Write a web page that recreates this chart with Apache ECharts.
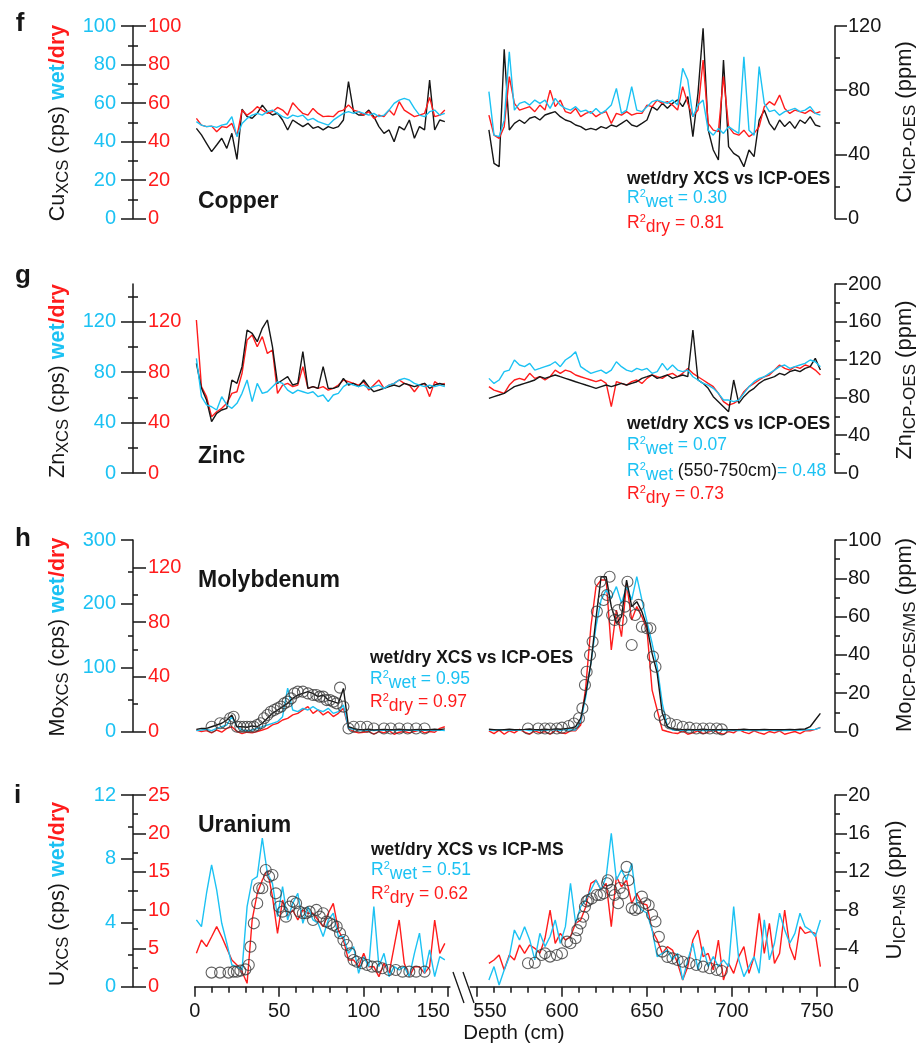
<!DOCTYPE html>
<html>
<head>
<meta charset="utf-8">
<title>XCS vs ICP depth profiles</title>
<script src="https://cdn.jsdelivr.net/npm/echarts@6/dist/echarts.min.js"></script>
<style>
  html, body { margin: 0; padding: 0; background: #ffffff; }
  #chart { width: 922px; height: 1053px; }
</style>
</head>
<body>
<div id="chart"></div>
<script>
// ---------------------------------------------------------------------------
// Depth columns (cm) for the two core sections
// ---------------------------------------------------------------------------
const depthLeft = [1,4,7,10,13,16,19,22,25,28,31,34,37,40,43,46,49,52,55,58,61,64,67,70,73,76,79,82,85,88,91,94,97,100,103,106,109,112,115,118,121,124,127,130,133,136,139,142,145,148];
const depthRight = [557,560,563,566,569,572,575,578,581,584,587,590,593,596,599,602,605,608,611,614,617,620,623,626,629,632,635,638,641,644,647,650,653,656,659,662,665,668,671,674,677,680,683,686,689,692,695,698,701,704,707,710,713,716,719,722,725,728,731,734,737,740,743,746,749,752];

// Depth axis ticks
const depthMajorLeft = [0,50,100,150];
const depthMinorLeft = [10,20,30,40,60,70,80,90,110,120,130,140];
const depthMajorRight = [550,600,650,700,750];
const depthMinorRight = [560,570,580,590,610,620,630,640,660,670,680,690,710,720,730,740];

// ---------------------------------------------------------------------------
// Copper: XCS wet / dry (cps), ICP-OES (ppm)
// ---------------------------------------------------------------------------
const cuWetLeft = [50.3,48.5,47.7,48.0,47.3,48.5,49.1,52.9,42.5,49.4,52.0,53.7,54.6,53.7,55.5,56.3,54.6,52.9,52.0,53.7,52.9,53.7,51.1,52.0,50.3,49.4,48.5,51.1,52.9,54.6,55.5,54.6,55.5,54.6,53.7,54.6,52.9,53.7,56.3,59.8,61.5,62.4,61.5,57.2,53.7,52.9,55.5,56.3,53.7,54.6];
const cuDryLeft = [52.0,48.5,47.7,48.0,45.1,47.7,47.3,49.4,42.8,56.3,53.7,55.5,58.1,56.3,54.6,55.5,57.7,56.3,53.7,60.1,57.2,54.6,53.7,57.2,54.6,52.9,53.2,52.9,55.5,56.3,58.9,56.3,55.5,53.7,55.5,52.0,53.7,52.9,56.3,53.7,60.7,56.3,54.6,52.9,53.7,54.6,62.9,52.9,53.7,56.3];
const cuIcpLeft = [56.2,52.1,46.9,41.7,45.8,50.0,43.7,53.1,36.9,68.1,63.5,62.5,65.6,70.7,66.6,64.5,65.6,61.4,55.2,61.4,59.3,57.3,59.3,56.2,57.3,55.2,57.3,56.2,57.3,61.4,85.3,66.6,64.5,64.5,67.6,63.5,57.3,53.1,55.2,47.9,57.3,55.2,61.4,50.0,57.3,55.2,86.3,55.2,61.4,60.4];
const cuWetRight = [65.9,43.3,42.5,51.1,86.6,56.3,59.8,60.7,58.9,61.5,59.8,61.5,57.2,62.4,58.9,57.2,56.3,58.1,55.5,56.3,54.6,57.2,54.6,56.3,58.9,67.6,54.6,56.3,68.5,56.3,55.5,58.1,60.7,61.5,60.7,59.8,61.5,58.9,78.0,71.9,52.9,58.9,61.5,45.9,43.3,46.8,44.2,47.7,45.9,44.2,84.0,45.9,43.3,78.9,59.8,55.5,56.3,53.7,55.5,56.3,57.2,55.5,56.3,58.1,54.6,53.7];
const cuDryRight = [53.7,43.3,41.6,47.7,73.7,59.8,56.3,57.2,58.1,55.5,58.9,56.3,66.7,58.1,61.5,55.5,54.6,57.2,52.9,54.6,55.5,52.9,54.6,55.5,49.4,54.6,53.7,55.5,53.7,54.6,54.6,58.9,58.1,61.5,59.8,60.7,58.9,56.3,68.5,59.8,52.9,56.3,82.3,49.4,45.9,45.1,73.7,47.7,44.2,43.3,45.9,42.5,44.2,47.7,58.1,60.7,58.9,64.1,57.2,54.6,56.3,55.5,54.6,56.3,54.6,55.5];
const cuIcpRight = [55.2,34.4,32.3,105.5,55.2,59.3,61.4,59.3,62.5,63.5,61.4,64.5,65.6,66.6,63.5,61.4,60.4,58.3,57.3,55.2,56.2,55.2,57.3,56.2,58.3,57.3,59.3,61.4,58.3,57.3,59.3,61.4,69.7,67.6,71.8,68.7,71.8,73.9,69.7,76.0,51.0,78.0,118.6,55.2,42.7,36.5,98.8,44.8,40.6,38.6,32.3,42.7,38.6,61.4,67.6,59.3,55.2,61.4,57.3,60.4,56.2,61.4,59.3,63.5,58.3,57.3];
const cuXcsMajor = [0,20,40,60,80,100];
const cuXcsMinor = [10,30,50,70,90];
const cuIcpMajor = [0,40,80,120];
const cuIcpMinor = [20,60,100];

// ---------------------------------------------------------------------------
// Zinc
// ---------------------------------------------------------------------------
const znWetLeft = [91.0,60.6,54.0,52.6,50.0,60.6,54.0,51.3,55.3,63.2,73.8,56.6,71.1,63.2,64.5,68.5,72.5,71.1,65.8,63.2,65.8,64.5,63.2,64.5,60.6,61.9,56.6,61.9,63.2,68.5,71.1,69.8,68.5,69.8,67.2,68.5,69.8,67.2,69.8,71.1,73.8,75.1,73.8,71.1,69.8,68.5,69.8,68.5,69.8,68.5];
const znDryLeft = [121.4,68.5,60.6,44.7,48.6,51.3,55.3,63.2,64.5,79.1,105.5,109.5,100.2,108.2,94.9,97.6,63.2,69.8,71.1,68.5,69.8,84.4,67.2,68.5,67.2,68.5,65.8,67.2,69.8,73.8,72.5,71.1,69.8,72.5,65.8,69.8,73.8,67.2,69.8,71.1,73.8,71.1,69.8,64.5,69.8,71.1,60.6,72.5,69.8,71.1];
const znIcpLeft = [116.0,89.6,77.2,54.3,63.1,66.7,68.4,98.4,94.9,112.5,151.3,147.8,139.0,153.1,161.9,133.7,94.9,98.4,101.9,93.1,94.9,128.4,89.6,91.4,89.6,112.5,89.6,89.6,91.4,100.2,93.1,94.9,91.4,98.4,91.4,86.1,87.8,89.6,91.4,93.1,91.4,94.9,93.1,91.4,93.1,94.9,89.6,93.1,94.9,93.1];
const znWetRight = [75.1,71.1,73.8,80.4,81.7,89.7,85.7,84.4,87.0,81.7,83.0,84.4,85.7,88.3,84.4,89.7,92.3,96.3,84.4,81.7,79.1,80.4,81.7,79.1,81.7,88.3,84.4,81.7,80.4,83.0,81.7,83.0,79.1,80.4,87.0,81.7,85.7,81.7,80.4,81.7,76.4,73.8,71.1,69.8,67.2,63.2,57.9,57.9,56.6,57.9,63.2,68.5,72.5,75.1,76.4,79.1,81.7,84.4,85.7,83.0,84.4,85.7,87.0,89.7,88.3,84.4];
const znDryRight = [68.5,65.8,64.5,63.2,69.8,73.8,75.1,73.8,79.1,75.1,76.4,73.8,76.4,81.7,79.1,81.7,80.4,77.8,76.4,75.1,73.8,72.5,73.8,71.1,52.6,72.5,71.1,69.8,72.5,73.8,71.1,75.1,77.8,76.4,75.1,77.8,79.1,76.4,79.1,83.0,79.1,76.4,73.8,71.1,68.5,63.2,56.6,53.9,55.3,57.9,64.5,68.5,71.1,73.8,76.4,77.8,81.7,85.7,83.0,81.7,84.4,83.0,85.7,84.4,81.7,77.8];
const znIcpRight = [79.0,80.8,82.5,84.3,87.8,91.4,93.1,94.9,96.6,98.4,101.9,100.2,101.9,103.7,101.9,100.2,98.4,96.6,94.9,93.1,91.4,89.6,91.4,93.1,91.4,93.1,94.9,93.1,94.9,96.6,100.2,101.9,103.7,100.2,101.9,103.7,100.2,101.9,103.7,101.9,151.3,98.4,94.9,89.6,80.8,75.5,70.2,64.9,98.4,73.7,80.8,86.1,89.6,94.9,98.4,100.2,101.9,105.5,103.7,107.2,109.0,107.2,110.8,112.5,121.3,109.0];
const znXcsMajor = [0,40,80,120];
const znXcsMinor = [20,60,100,140];
const znIcpMajor = [0,40,80,120,160,200];
const znIcpMinor = [20,60,100,140,180];

// ---------------------------------------------------------------------------
// Molybdenum
// ---------------------------------------------------------------------------
const moWetLeft = [1.3,2.3,3.4,1.3,5.0,7.6,10.2,23.2,7.6,2.3,1.3,2.3,5.0,7.6,10.2,12.8,15.4,23.2,68.0,33.7,31.1,36.3,33.7,38.9,33.7,31.1,36.3,28.4,31.1,41.5,5.0,3.4,2.3,1.8,2.3,1.3,2.3,1.8,1.3,2.3,1.8,1.3,2.3,1.8,1.3,2.3,1.8,1.3,2.3,1.3];
const moDryLeft = [1.1,0,0.6,-1,1.1,-0.5,2.3,3.5,0,-1.5,-0.5,-1,0,1.1,2.3,4.8,6.0,8.4,9.6,12.1,13.3,15.8,18.2,13.3,15.8,12.1,14.5,10.9,13.3,17.0,2.3,0,-1,-0.5,0,-2,0,-1,0.6,-2,-0.5,0,-1,0,1.1,-1,0,-0.5,2.3,3.5];
const moIcpLineLeft = [1.1,1.6,1.6,2.5,3.4,4.3,6.0,8.6,2.5,2.5,2.2,2.9,2.5,4.3,6.9,9.5,11.2,13.0,14.7,17.3,19.05,19.9,20.8,19.9,18.2,19.05,16.4,15.6,14.7,22.5,2.5,1.6,1.0,1.0,1.2,0.8,1.0,1.1,0.9,1.0,1.2,1.0,0.8,1.0,1.1,0.9,1.0,1.2,1.0,1.4];
const moWetRight = [2.4,1.3,2.9,1.8,1.3,2.4,1.8,2.9,1.3,2.4,1.8,1.3,2.9,2.4,1.8,2.9,2.4,2.4,15.4,54.6,106.9,164.4,206.2,221.8,208.8,227.0,200.9,227.0,206.2,242.7,206.2,172.2,138.2,101.6,44.2,7.6,2.4,1.8,2.4,1.3,1.8,2.4,1.3,1.8,1.3,2.4,1.8,1.3,1.8,1.3,2.4,1.3,1.8,1.3,1.8,2.4,1.3,1.8,1.3,1.8,2.4,1.8,2.4,2.9,3.4,6.0];
const moDryRight = [0.5,-1.5,1.0,-2.0,0.5,-1.0,1.5,-0.5,-2.0,0.5,-1.0,0.0,-2.0,1.0,-1.0,-1.5,0.5,0.5,4.7,32.8,76.6,105.9,110.8,110.8,59.6,88.8,69.3,108.3,81.5,91.3,84.0,74.2,30.3,15.7,1.1,0.0,-1.0,-1.5,0.5,-2.0,-1.0,0.5,-1.5,-0.5,1.0,-1.0,-2.0,0.0,-1.0,1.5,-0.5,-1.5,0.5,-1.0,-2.0,0.0,-1.0,0.5,-2.0,-1.0,0.0,-1.5,0.5,0.5,1.5,3.0];
const moIcpLineRight = [1.2,1.0,0.8,1.0,1.2,0.9,1.0,1.1,1.3,1.0,0.9,1.2,1.0,1.4,1.2,1.5,1.8,2.5,6.9,19.9,35.6,59.1,80.8,80.8,65.2,56.5,60.0,79.1,65.2,67.8,62.6,54.7,40.8,30.4,9.5,2.5,1.4,1.2,1.0,1.1,0.9,1.0,1.2,1.0,0.9,1.0,1.1,1.0,0.9,1.0,1.2,1.0,0.9,1.0,1.1,1.0,1.0,0.9,1.0,1.1,1.0,1.2,1.3,2.5,6.0,9.5];
const moIcpDepthLeft = [10,15,18,21,23,25,27,29,31,33,35,37,39,41,43,45,47,49,51,53,55,57,59,61,64,67,70,72,74,76,78,80,82,84,86,88,91,94,98,102,106,112,116,121,126,131,136];
const moIcpLeft = [2.5,4.3,4.3,6.9,7.7,2.5,2.5,2.5,2.5,2.5,2.5,3.4,4.3,6.9,8.6,10.3,11.2,12.1,13.0,14.7,15.6,17.3,19.9,20.8,20.8,19.9,19.05,19.05,18.2,18.2,16.4,16.4,15.6,14.7,22.9,13.0,1.6,2.5,2.5,2.5,1.6,1.6,1.6,1.6,1.6,1.6,1.6];
const moIcpDepthRight = [580,586,590,593,597,600,604,607,610,612,613.5,614.5,616.5,618,620.5,622.5,624.5,626.5,628,629.5,631,633,635,637,638.5,641,643,645,647,650,652,653.5,655,657.5,660.5,663.5,667.5,671,675,679,683,687,691,694];
const moIcpRight = [1.6,1.6,1.6,1.6,1.6,2.0,2.9,4.2,6.9,12.1,24.3,31.2,39.9,46.9,62.6,78.2,68.7,71.3,80.8,60.8,58.2,63.4,58.2,65.2,78.2,45.2,60.8,66.1,54.7,53.9,53.9,39.1,33.8,8.6,6.0,4.2,3.4,2.5,2.0,1.6,1.6,1.6,1.6,1.1];
const moWetMajor = [0,100,200,300];
const moWetMinor = [50,150,250];
const moDryMajor = [0,40,80,120];
const moDryMinor = [20,60,100];
const moIcpMajor = [0,20,40,60,80,100];
const moIcpMinor = [10,30,50,70,90];

// ---------------------------------------------------------------------------
// Uranium
// ---------------------------------------------------------------------------
const uWetLeft = [4.18,3.76,5.85,7.62,6.06,3.97,2.72,1.36,1.26,1.05,5.01,6.68,6.89,9.3,7.10,6.47,4.39,6.26,4.18,5.22,5.85,3.97,5.01,4.18,3.97,3.14,4.18,4.60,3.14,3.14,2.09,2.51,0.84,1.88,1.26,5.01,1.26,2.09,0.63,1.26,1.05,1.26,0.63,2.09,3.35,0.84,2.30,0.63,1.88,1.68];
const uDryLeft = [4.35,6.09,5.22,6.52,7.83,6.52,5.0,3.48,2.83,1.96,0.44,8.70,12.17,13.91,15.22,11.74,6.96,11.30,9.13,10.0,8.70,10.0,9.57,9.57,8.70,7.83,9.57,10.87,7.39,6.09,3.48,3.48,2.61,4.35,2.61,2.61,1.31,3.05,1.74,5.22,8.70,3.05,1.31,2.61,2.61,1.74,2.61,8.70,4.35,5.65];
const uWetRight = [0.42,1.26,0.11,1.05,1.88,3.55,2.93,3.76,2.93,1.68,3.34,2.51,3.14,4.18,2.72,3.76,6.47,3.97,5.01,5.43,6.06,6.68,6.06,6.89,9.60,6.68,7.31,6.68,7.72,5.22,4.80,4.60,3.55,1.88,2.09,2.30,1.68,2.09,0.42,1.68,2.72,1.05,2.51,1.26,1.88,1.26,1.68,1.26,5.01,1.68,0.63,1.26,1.88,0.84,4.18,1.68,2.72,4.60,3.55,2.72,3.34,4.60,3.76,3.55,3.14,4.18];
const uDryRight = [3.05,3.48,4.13,2.18,4.13,3.48,5.44,4.35,5.44,5.0,4.35,6.31,10.0,5.65,6.96,6.09,6.52,8.26,8.70,10.44,13.48,13.91,12.61,13.48,7.83,14.35,13.04,13.91,10.87,12.17,10.87,10.65,7.39,6.09,4.35,5.22,4.78,3.05,0.87,2.61,6.09,7.39,3.92,4.35,2.18,6.09,0.87,3.05,1.74,3.92,5.22,1.74,3.92,9.57,4.35,8.26,3.05,4.35,10.0,5.22,3.48,7.83,6.96,7.18,6.96,2.61];
const uIcpDepthLeft = [10,15,20,23,25,27,30,32,33,35,37,38,40,42,44,46,48,50,52,54,56,58,60,62,64,66,68,70,72,74,76,78,80,82,84,86,88,90,92,94,96,99,102,105,108,111,115,119,123,127,131,136];
const uIcpLeft = [1.47,1.47,1.47,1.57,1.57,1.68,1.81,2.27,4.18,6.61,8.70,10.27,10.27,12.18,11.48,11.66,9.74,8.35,7.83,7.31,8.35,8.88,8.70,7.83,7.66,7.66,7.83,6.96,8.01,7.31,7.66,6.79,6.61,6.44,6.27,5.57,4.88,4.35,3.48,2.79,2.61,2.44,2.27,2.09,2.09,1.92,1.74,1.74,1.57,1.57,1.57,1.57];
const uIcpDepthRight = [580,584,588,590,593,597,600,603,605,608,609,611,612.5,613.5,614.5,615.5,617.5,620.5,622.5,624.5,626.5,627,629,631,633,634,636,638,639,641,643,645,647,649,651,653,655,657,659,662,665,668,671,675,679,683,687,691,694];
const uIcpRight = [2.44,2.5,3.31,3.48,3.14,3.31,3.48,4.7,4.53,5.05,5.9,6.6,7.3,8.35,8.9,9.05,9.2,9.57,9.57,9.74,10.8,11.1,10.1,9.57,8.7,10.3,9.74,12.5,11.1,8.2,8.0,8.2,9.4,8.7,8.5,7.5,6.8,5.2,3.66,3.1,2.96,2.79,2.61,2.44,2.27,2.09,1.92,1.74,1.64];
const uWetMajor = [0,4,8,12];
const uWetMinor = [2,6,10];
const uDryMajor = [0,5,10,15,20,25];
const uDryMinor = [2.5,7.5,12.5,17.5,22.5];
const uIcpMajor = [0,4,8,12,16,20];
const uIcpMinor = [2,6,10,14,18];

// ---------------------------------------------------------------------------
// Styling
// ---------------------------------------------------------------------------
const FONT = '"Liberation Sans", Arial, Helvetica, sans-serif';
const CYAN = '#1cc2f3';
const RED = '#ff1c1c';
const INK = '#161616';
const LINE_W = 1.4;

// Layout of the two depth windows and the free-standing left scale
const X_LEFT = [0, 151];
const X_RIGHT = [546, 760.6];
const GRID_LEFT = { left: 194.7, width: 255.2 };
const GRID_RIGHT = { left: 470.2, width: 364.8 };
const LEFT_SCALE_OFFSET = 61.7;

const option = {
  animation: false,
  backgroundColor: '#ffffff',
  grid: [], xAxis: [], yAxis: [], series: [],
  graphic: { elements: [] }
};

function pairs(xs, ys, name) {
  if (xs.length !== ys.length) {
    throw new Error('Length mismatch in ' + name + ': ' + xs.length + ' vs ' + ys.length);
  }
  return xs.map((x, i) => [x, ys[i]]);
}

function addAxis(list, base, o) {
  const ax = Object.assign({
    type: 'value',
    show: o.show !== false,
    splitLine: { show: false },
    axisLine: { show: !!o.line, onZero: false, lineStyle: { color: INK, width: 1.5 } },
    axisTick: o.ticks ? {
      show: true, customValues: o.ticks, length: o.len, inside: !!o.inside,
      lineStyle: { color: INK, width: 1.5 }
    } : { show: false },
    axisLabel: o.labels ? {
      show: true, customValues: o.labels, inside: !!o.inside, color: o.color,
      fontSize: 20, fontFamily: FONT, margin: o.margin
    } : { show: false },
    silent: true
  }, base);
  list.push(ax);
  return list.length - 1;
}

function addLine(xi, yi, xs, ys, color, z, name, width) {
  option.series.push({
    type: 'line', name, xAxisIndex: xi, yAxisIndex: yi,
    data: pairs(xs, ys, name),
    showSymbol: false, symbol: 'none', clip: false, silent: true,
    lineStyle: { color, width: width || LINE_W },
    z
  });
}

function addCircles(xi, yi, xs, ys, z, name) {
  option.series.push({
    type: 'scatter', name, xAxisIndex: xi, yAxisIndex: yi,
    data: pairs(xs, ys, name),
    symbol: 'circle', symbolSize: 11, clip: false, silent: true,
    itemStyle: { color: 'rgba(255,255,255,0)', borderColor: '#3a3a3a', borderWidth: 1.1 },
    z
  });
}

// Depth labels next to the axis break are nudged away from it
function breakLabels(axis, value, pad) {
  axis.axisLabel.formatter = v => (v === value ? '{e|' + v + '}' : String(v));
  axis.axisLabel.rich = { e: { fontSize: 20, fontFamily: FONT, color: INK, padding: pad } };
}

function addPanel(p) {
  const gL = option.grid.length;
  option.grid.push(Object.assign({ top: p.top, height: p.height, outerBoundsMode: 'none' }, GRID_LEFT));
  const gR = option.grid.length;
  option.grid.push(Object.assign({ top: p.top, height: p.height, outerBoundsMode: 'none' }, GRID_RIGHT));

  // depth axes (drawn only under the lowest panel)
  let xL, xR;
  if (p.bottom) {
    xL = addAxis(option.xAxis, { gridIndex: gL, min: X_LEFT[0], max: X_LEFT[1], position: 'bottom' },
      { line: true, ticks: depthMajorLeft, labels: depthMajorLeft, len: 10, color: INK, margin: 15 });
    addAxis(option.xAxis, { gridIndex: gL, min: X_LEFT[0], max: X_LEFT[1], position: 'bottom' },
      { ticks: depthMinorLeft, len: 6 });
    xR = addAxis(option.xAxis, { gridIndex: gR, min: X_RIGHT[0], max: X_RIGHT[1], position: 'bottom' },
      { line: true, ticks: depthMajorRight, labels: depthMajorRight, len: 10, color: INK, margin: 15 });
    addAxis(option.xAxis, { gridIndex: gR, min: X_RIGHT[0], max: X_RIGHT[1], position: 'bottom' },
      { ticks: depthMinorRight, len: 6 });
    breakLabels(option.xAxis[xL], 150, [0, 30, 0, 0]);
    breakLabels(option.xAxis[xR], 550, [0, 0, 0, 26]);
  } else {
    xL = addAxis(option.xAxis, { gridIndex: gL, min: X_LEFT[0], max: X_LEFT[1] }, { show: false });
    xR = addAxis(option.xAxis, { gridIndex: gR, min: X_RIGHT[0], max: X_RIGHT[1] }, { show: false });
  }

  // shared left scale: wet (cyan, ticks outward) and dry (red, ticks inward)
  const yWetL = addAxis(option.yAxis, { gridIndex: gL, min: 0, max: p.wet.max, position: 'left', offset: LEFT_SCALE_OFFSET },
    { line: true, ticks: p.wet.major, labels: p.wet.major, len: 12, color: CYAN, margin: 17 });
  addAxis(option.yAxis, { gridIndex: gL, min: 0, max: p.wet.max, position: 'left', offset: LEFT_SCALE_OFFSET },
    { ticks: p.wet.minor, len: 5 });
  const yDryL = addAxis(option.yAxis, { gridIndex: gL, min: 0, max: p.dry.max, position: 'left', offset: LEFT_SCALE_OFFSET },
    { inside: true, ticks: p.dry.major, labels: p.dry.major, len: 13, color: RED, margin: 15 });
  addAxis(option.yAxis, { gridIndex: gL, min: 0, max: p.dry.max, position: 'left', offset: LEFT_SCALE_OFFSET },
    { inside: true, ticks: p.dry.minor, len: 5 });
  const yIcpL = addAxis(option.yAxis, { gridIndex: gL, min: 0, max: p.icp.max, position: 'right' }, { show: false });

  // right window: ICP scale on the right edge
  const yWetR = addAxis(option.yAxis, { gridIndex: gR, min: 0, max: p.wet.max, position: 'left' }, { show: false });
  const yDryR = addAxis(option.yAxis, { gridIndex: gR, min: 0, max: p.dry.max, position: 'left' }, { show: false });
  const yIcpR = addAxis(option.yAxis, { gridIndex: gR, min: 0, max: p.icp.max, position: 'right' },
    { line: true, ticks: p.icp.major, labels: p.icp.major, len: 12, color: INK, margin: 13 });
  addAxis(option.yAxis, { gridIndex: gR, min: 0, max: p.icp.max, position: 'right' },
    { ticks: p.icp.minor, len: 5 });

  const idx = {
    L: { x: xL, wet: yWetL, dry: yDryL, icp: yIcpL, depth: depthLeft },
    R: { x: xR, wet: yWetR, dry: yDryR, icp: yIcpR, depth: depthRight }
  };
  p.layers.forEach((layer, k) => {
    ['L', 'R'].forEach(side => {
      const a = idx[side];
      const vals = layer[side];
      if (!vals) return;
      if (layer.kind === 'points') {
        addCircles(a.x, a.icp, layer[side + 'depth'], vals, 10 + k, p.name + '-' + layer.key + side);
      } else {
        const color = layer.key === 'wet' ? CYAN : layer.key === 'dry' ? RED : INK;
        addLine(a.x, a[layer.key], a.depth, vals, color, 10 + k, p.name + '-' + layer.key + side);
      }
    });
  });
}

// ---------------------------------------------------------------------------
// Panels
// ---------------------------------------------------------------------------
addPanel({
  name: 'Cu', top: 26, height: 192.5,
  wet: { max: 100, major: cuXcsMajor, minor: cuXcsMinor },
  dry: { max: 100, major: cuXcsMajor, minor: cuXcsMinor },
  icp: { max: 120, major: cuIcpMajor, minor: cuIcpMinor },
  layers: [
    { key: 'icp', L: cuIcpLeft, R: cuIcpRight },
    { key: 'dry', L: cuDryLeft, R: cuDryRight },
    { key: 'wet', L: cuWetLeft, R: cuWetRight }
  ]
});
addPanel({
  name: 'Zn', top: 284, height: 189,
  wet: { max: 150, major: znXcsMajor, minor: znXcsMinor },
  dry: { max: 150, major: znXcsMajor, minor: znXcsMinor },
  icp: { max: 200, major: znIcpMajor, minor: znIcpMinor },
  layers: [
    { key: 'dry', L: znDryLeft, R: znDryRight },
    { key: 'icp', L: znIcpLeft, R: znIcpRight },
    { key: 'wet', L: znWetLeft, R: znWetRight }
  ]
});
addPanel({
  name: 'Mo', top: 540, height: 191.5,
  wet: { max: 300, major: moWetMajor, minor: moWetMinor },
  dry: { max: 140, major: moDryMajor, minor: moDryMinor },
  icp: { max: 100, major: moIcpMajor, minor: moIcpMinor },
  layers: [
    { key: 'dry', L: moDryLeft, R: moDryRight },
    { key: 'wet', L: moWetLeft, R: moWetRight },
    { key: 'icp', L: moIcpLineLeft, R: moIcpLineRight },
    { key: 'icp', kind: 'points', L: moIcpLeft, Ldepth: moIcpDepthLeft, R: moIcpRight, Rdepth: moIcpDepthRight }
  ]
});
addPanel({
  name: 'U', top: 795, height: 191.7, bottom: true,
  wet: { max: 12, major: uWetMajor, minor: uWetMinor },
  dry: { max: 25, major: uDryMajor, minor: uDryMinor },
  icp: { max: 20, major: uIcpMajor, minor: uIcpMinor },
  layers: [
    { key: 'dry', L: uDryLeft, R: uDryRight },
    { key: 'wet', L: uWetLeft, R: uWetRight },
    { key: 'icp', kind: 'points', L: uIcpLeft, Ldepth: uIcpDepthLeft, R: uIcpRight, Rdepth: uIcpDepthRight }
  ]
});

// ---------------------------------------------------------------------------
// Text: panel letters, element names, axis titles, fit statistics
// ---------------------------------------------------------------------------
const G = option.graphic.elements;
function text(x, y, str, rich, align, rotation, extra) {
  G.push({
    type: 'text', x, y, rotation: rotation || 0, silent: true, z: 100,
    style: Object.assign({
      text: str, rich: rich || undefined,
      align: align || 'left', verticalAlign: 'middle',
      fontFamily: FONT, fontSize: 18, fill: INK
    }, extra || {})
  });
}

const titleRich = {
  n: { fontSize: 21.5, fontFamily: FONT, fill: INK, verticalAlign: 'middle' },
  s: { fontSize: 16.5, fontFamily: FONT, fill: INK, verticalAlign: 'middle', padding: [10, 0, 0, 0] },
  w: { fontSize: 21.5, fontFamily: FONT, fontWeight: 'bold', fill: CYAN, verticalAlign: 'middle' },
  d: { fontSize: 21.5, fontFamily: FONT, fontWeight: 'bold', fill: RED, verticalAlign: 'middle' }
};
const rTitleRich = {
  n: { fontSize: 22, fontFamily: FONT, fill: INK, verticalAlign: 'middle' },
  s: { fontSize: 17, fontFamily: FONT, fill: INK, verticalAlign: 'middle', padding: [10, 0, 0, 0] }
};
const noteRich = {
  b: { fontSize: 17.5, fontFamily: FONT, fontWeight: 'bold', fill: INK, verticalAlign: 'middle' },
  k: { fontSize: 17.5, fontFamily: FONT, fill: INK, verticalAlign: 'middle' },
  c: { fontSize: 17.5, fontFamily: FONT, fill: CYAN, verticalAlign: 'middle' },
  cp: { fontSize: 11, fontFamily: FONT, fill: CYAN, verticalAlign: 'middle', padding: [0, 0, 8, 0] },
  cs: { fontSize: 17.5, fontFamily: FONT, fill: CYAN, verticalAlign: 'middle', padding: [9, 0, 0, 0] },
  r: { fontSize: 17.5, fontFamily: FONT, fill: RED, verticalAlign: 'middle' },
  rp: { fontSize: 11, fontFamily: FONT, fill: RED, verticalAlign: 'middle', padding: [0, 0, 8, 0] },
  rs: { fontSize: 17.5, fontFamily: FONT, fill: RED, verticalAlign: 'middle', padding: [9, 0, 0, 0] }
};
const UP = Math.PI / 2;

// panel letters
[['f', 20, 24], ['g', 23, 276], ['h', 23, 539], ['i', 17.5, 796]].forEach(([t, x, y]) =>
  text(x, y, t, null, 'center', 0, { fontSize: 26, fontWeight: 'bold' }));

// element names
[['Copper', 202], ['Zinc', 457], ['Molybdenum', 581], ['Uranium', 826]].forEach(([t, y]) =>
  text(198, y, t, null, 'left', 0, { fontSize: 23, fontWeight: 'bold' }));

// left (XCS) axis titles
[['Cu', 123], ['Zn', 381], ['Mo', 637], ['U', 894]].forEach(([el, y]) =>
  text(58, y, '{n|' + el + '}{s|XCS}{n| (cps) }{w|wet}{d|/dry}', titleRich, 'center', UP));

// right (ICP) axis titles
[['Cu', 'ICP-OES', 905, 122], ['Zn', 'ICP-OES', 905, 380], ['Mo', 'ICP-OES/MS', 905, 635], ['U', 'ICP-MS', 895, 890]]
  .forEach(([el, sub, x, y]) =>
    text(x, y, '{n|' + el + '}{s|' + sub + '}{n| (ppm)}', rTitleRich, 'center', UP));

// correlation notes
text(627, 179, '{b|wet/dry XCS vs ICP-OES}', noteRich);
text(627, 198, '{c|R}{cp|2}{cs|wet}{c| = 0.30}', noteRich);
text(627, 223, '{r|R}{rp|2}{rs|dry}{r| = 0.81}', noteRich);

text(627, 424, '{b|wet/dry XCS vs ICP-OES}', noteRich);
text(627, 445, '{c|R}{cp|2}{cs|wet}{c| = 0.07}', noteRich);
text(627, 471, '{c|R}{cp|2}{cs|wet}{k| (550-750cm)}{c|= 0.48}', noteRich);
text(627, 494, '{r|R}{rp|2}{rs|dry}{r| = 0.73}', noteRich);

text(370, 658, '{b|wet/dry XCS vs ICP-OES}', noteRich);
text(370, 679, '{c|R}{cp|2}{cs|wet}{c| = 0.95}', noteRich);
text(370, 702, '{r|R}{rp|2}{rs|dry}{r| = 0.97}', noteRich);

text(371, 850, '{b|wet/dry XCS vs ICP-MS}', noteRich);
text(371, 870, '{c|R}{cp|2}{cs|wet}{c| = 0.51}', noteRich);
text(371, 894, '{r|R}{rp|2}{rs|dry}{r| = 0.62}', noteRich);

// depth axis title
text(514, 1033, 'Depth (cm)', null, 'center', 0, { fontSize: 20.5 });

// axis break marks between the two depth windows
G.push({ type: 'line', silent: true, z: 100, shape: { x1: 453, y1: 972, x2: 464, y2: 1003 }, style: { stroke: INK, lineWidth: 1.3 } });
G.push({ type: 'line', silent: true, z: 100, shape: { x1: 463, y1: 972, x2: 474, y2: 1003 }, style: { stroke: INK, lineWidth: 1.3 } });

const chart = echarts.init(document.getElementById('chart'), null, { renderer: 'canvas', width: 922, height: 1053 });
chart.setOption(option);
</script>
</body>
</html>
